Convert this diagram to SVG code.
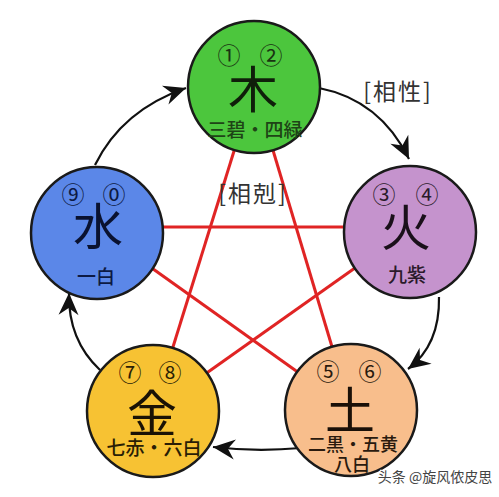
<svg xmlns="http://www.w3.org/2000/svg" width="499" height="497" viewBox="0 0 499 497">
<style>
.node{stroke:#1a1a1a;stroke-width:2.5}
.cn{font-family:"Noto Sans CJK JP","Noto Sans CJK SC",sans-serif;text-anchor:middle}
.big{font-size:50px}
.num{font-size:23px}
.sub{font-size:19px;font-weight:500}
.sub2{font-size:18px;font-weight:500}
.lbl{font-family:"Noto Sans CJK JP","Noto Sans CJK SC",sans-serif;font-size:23px;fill:#333;text-anchor:middle;letter-spacing:2px}
.red{stroke:#e02424;stroke-width:3;fill:none}
.arc{stroke:#111;stroke-width:2.2;fill:none;marker-end:url(#ah)}
</style>
<defs>
<marker id="ah" markerUnits="userSpaceOnUse" viewBox="-24 -12 26 24" refX="0" refY="0" markerWidth="26" markerHeight="24" orient="auto">
<path d="M0,0 L-22,-10 L-15,0 L-22,10 Z" fill="#111"/>
</marker>
</defs>
<rect width="499" height="497" fill="#fff"/>
<g id="connectors">
<line class="red" x1="254" y1="87" x2="153" y2="411"/>
<line class="red" x1="254" y1="87" x2="351" y2="410"/>
<line class="red" x1="97" y1="227" x2="410" y2="227"/>
<line class="red" x1="97" y1="229" x2="351" y2="410"/>
<line class="red" x1="410" y1="229" x2="153" y2="411"/>
<path class="arc" d="M95,165 Q122,110 186,88"/>
<path class="arc" d="M319,88 Q380,100 409,159"/>
<path class="arc" d="M439,297 Q440,345 408,369"/>
<path class="arc" d="M301,448 Q256,452 213,447"/>
<path class="arc" d="M100,370 Q68,340 69,293"/>
</g>
<g id="wood">
<circle class="node" cx="254" cy="87" r="66" fill="#4cc63d"/>
<text class="cn num" x="229" y="64" fill="#1a3312">①</text>
<text class="cn num" x="271" y="64" fill="#1a3312">②</text>
<text class="cn big" x="253" y="108" fill="#0f1f0a">木</text>
<text class="cn sub" x="255" y="137" fill="#1e4416">三碧・四緑</text>
</g>
<g id="water">
<circle class="node" cx="97" cy="233" r="66" fill="#5b87e8"/>
<text class="cn num" x="73" y="203" fill="#0d1a44">⑨</text>
<text class="cn num" x="114" y="203" fill="#0d1a44">⓪</text>
<text class="cn big" x="98" y="245" fill="#0a1230">水</text>
<text class="cn sub" x="96" y="284" fill="#0d1a44">一白</text>
</g>
<g id="fire">
<circle class="node" cx="410" cy="232" r="66" fill="#c593cd"/>
<text class="cn num" x="384" y="203" fill="#2a1a2a">③</text>
<text class="cn num" x="427" y="203" fill="#2a1a2a">④</text>
<text class="cn big" x="406" y="246" fill="#1a101a">火</text>
<text class="cn sub" x="407" y="282" fill="#2a1a2a">九紫</text>
</g>
<g id="metal">
<circle class="node" cx="153" cy="411" r="66" fill="#f7c233"/>
<text class="cn num" x="130" y="381" fill="#2a1e05">⑦</text>
<text class="cn num" x="170" y="381" fill="#2a1e05">⑧</text>
<text class="cn big" x="152" y="432" fill="#1a1205">金</text>
<text class="cn sub" x="154" y="455" fill="#2a1e05">七赤・六白</text>
</g>
<g id="earth">
<circle class="node" cx="351" cy="410" r="66" fill="#f8be8c"/>
<text class="cn num" x="328" y="380" fill="#2a1a0e">⑤</text>
<text class="cn num" x="370" y="380" fill="#2a1a0e">⑥</text>
<text class="cn big" x="350" y="429" fill="#1a1008">土</text>
<text class="cn sub2" x="353" y="451" fill="#2a1a0e">二黒・五黄</text>
<text class="cn sub2" x="352" y="471" fill="#2a1a0e">八白</text>
</g>
<g id="labels">
<text class="lbl" x="398" y="100">[相性]</text>
<text class="lbl" x="253" y="202">[相剋]</text>
<text x="435" y="482" font-family="'Noto Sans CJK SC',sans-serif" font-size="14" fill="#444" stroke="#fff" stroke-width="2" paint-order="stroke" text-anchor="middle">头条 @旋风侬皮思</text>
</g>
</svg>
